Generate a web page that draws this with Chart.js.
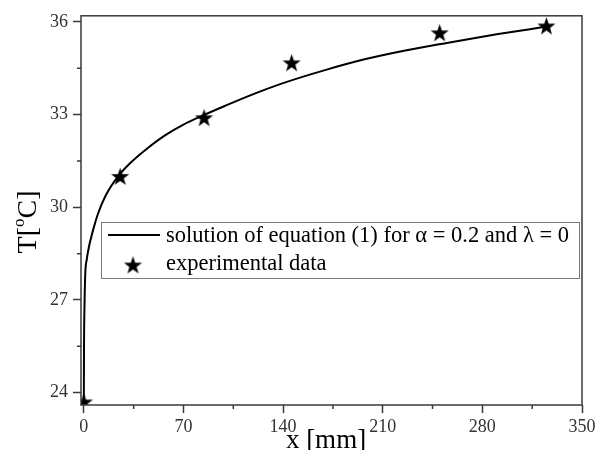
<!DOCTYPE html>
<html>
<head>
<meta charset="utf-8">
<script src="https://cdn.jsdelivr.net/npm/chart.js@4.4.0/dist/chart.umd.min.js"></script>
<style>
  html, body { margin: 0; padding: 0; background: #fff; }
  #wrap { width: 606px; height: 450px; }
</style>
</head>
<body>
<div id="wrap"><canvas id="tempChart"></canvas></div>
<script>
'use strict';

// solution curve, x in mm, T in deg C
const curveX = [0, 0.1, 0.5, 1, 2, 3.5, 5, 7, 10, 15, 24, 33, 43, 57, 70, 84, 99, 120, 140, 170, 198, 225, 256, 290, 325];
const curveT = [23.7, 25.3, 26.9, 27.85, 28.3, 28.7, 29.0, 29.35, 29.8, 30.35, 31.0, 31.45, 31.85, 32.33, 32.68, 32.98, 33.28, 33.68, 34.02, 34.45, 34.8, 35.07, 35.33, 35.6, 35.85];

// measured points
const measuredX = [0, 25.5, 84.5, 146, 250, 325];
const measuredT = [23.7, 31.0, 32.9, 34.68, 35.65, 35.87];

const xTicks = [0, 70, 140, 210, 280, 350];
const xMinor = [35, 105, 175, 245, 315];
const yTicks = [24, 27, 30, 33, 36];
const yMinor = [25.5, 28.5, 31.5, 34.5];

const curveLabel = 'solution of equation (1) for \u03b1 = 0.2 and \u03bb = 0';
const pointsLabel = 'experimental data';
const xTitle = 'x [mm]';

const serif = "'Liberation Serif', 'DejaVu Serif', serif";
const frameColor = '#3a3a3a';

// filled five-pointed star used as point marker
function makeStar(outer) {
    let c = document.createElement('canvas');
    let size = Math.ceil(outer * 2 + 2);
    c.width = size;
    c.height = size;
    let g = c.getContext('2d');
    let inner = outer * 0.4;
    g.beginPath();
    for (let i = 0; i < 10; i++) {
        let r = i % 2 === 0 ? outer : inner;
        let a = -Math.PI / 2 + i * Math.PI / 5;
        let px = size / 2 + r * Math.cos(a);
        let py = size / 2 + r * Math.sin(a) + 0.8;
        if (i === 0) g.moveTo(px, py); else g.lineTo(px, py);
    }
    g.closePath();
    g.fillStyle = '#000';
    g.fill();
    return c;
}
const star = makeStar(9.5);

function toPoints(xs, ys) {
    let pts = [];
    for (let i = 0; i < xs.length; i++) {
        pts.push({ x: xs[i], y: ys[i] });
    }
    return pts;
}

// T[oC] with the small raised "o", written bottom to top
function drawYTitle(ctx) {
    ctx.save();
    ctx.translate(30, 222);
    ctx.rotate(-Math.PI / 2);
    ctx.fillStyle = '#000';
    ctx.textBaseline = 'alphabetic';
    ctx.textAlign = 'left';
    let big = '28px ' + serif;
    let small = '17px ' + serif;
    ctx.font = big;
    let w1 = ctx.measureText('T[').width;
    let w3 = ctx.measureText('C]').width;
    ctx.font = small;
    let w2 = ctx.measureText('o').width;
    let x0 = -(w1 + w2 + w3) / 2;
    ctx.font = big;
    ctx.fillText('T[', x0, 6);
    ctx.font = small;
    ctx.fillText('o', x0 + w1, -6);
    ctx.font = big;
    ctx.fillText('C]', x0 + w1 + w2, 6);
    ctx.restore();
}

// frame, minor ticks, axis titles and the boxed legend
const decorations = {
    id: 'decorations',
    afterDraw(chart) {
        const { ctx, chartArea: a, scales } = chart;
        ctx.save();
        ctx.strokeStyle = frameColor;
        ctx.lineWidth = 1.5;
        ctx.strokeRect(a.left, a.top, a.right - a.left, a.bottom - a.top);

        ctx.beginPath();
        xMinor.forEach(v => {
            let px = scales.x.getPixelForValue(v);
            ctx.moveTo(px, a.bottom);
            ctx.lineTo(px, a.bottom + 4);
        });
        yMinor.forEach(v => {
            let py = scales.y.getPixelForValue(v);
            ctx.moveTo(a.left, py);
            ctx.lineTo(a.left - 4, py);
        });
        ctx.stroke();

        // axis titles
        ctx.fillStyle = '#000';
        ctx.font = '27px ' + serif;
        ctx.textAlign = 'center';
        ctx.textBaseline = 'alphabetic';
        ctx.fillText(xTitle, 326, 448);
        drawYTitle(ctx);

        // legend box
        let bx = 101, by = 222, bw = 478, bh = 56;
        ctx.fillStyle = '#fff';
        ctx.fillRect(bx, by, bw, bh);
        ctx.strokeStyle = '#7a7a7a';
        ctx.lineWidth = 1;
        ctx.strokeRect(bx + 0.5, by + 0.5, bw, bh);

        ctx.strokeStyle = '#000';
        ctx.lineWidth = 2;
        ctx.beginPath();
        ctx.moveTo(108, 235);
        ctx.lineTo(160, 235);
        ctx.stroke();
        ctx.drawImage(star, 133 - star.width / 2, 265 - star.height / 2);

        ctx.fillStyle = '#000';
        ctx.font = '22.5px ' + serif;
        ctx.textBaseline = 'middle';
        ctx.textAlign = 'left';
        ctx.fillText(curveLabel, 166, 236);
        ctx.fillText(pointsLabel, 166, 264);
        ctx.restore();
    }
};

const data = {
    datasets: [
        {
            label: curveLabel,
            data: toPoints(curveX, curveT),
            showLine: true,
            borderColor: '#000',
            borderWidth: 2,
            pointRadius: 0,
            cubicInterpolationMode: 'monotone',
            order: 2,
        },
        {
            label: pointsLabel,
            data: toPoints(measuredX, measuredT),
            showLine: false,
            pointStyle: star,
            pointRadius: 10,
            clip: 0,
            order: 1,
        },
    ]
};

const config = {
    type: 'scatter',
    data: data,
    options: {
        responsive: false,
        animation: false,
        layout: { padding: { top: 15, right: 24, left: 0, bottom: 0 } },
        plugins: {
            legend: { display: false },
            tooltip: { enabled: false },
        },
        scales: {
            x: {
                type: 'linear',
                min: -2,
                max: 350,
                afterBuildTicks: scale => { scale.ticks = xTicks.map(v => ({ value: v })); },
                afterFit: scale => { scale.height = 45; },
                grid: { drawOnChartArea: false, tickLength: 8, tickColor: frameColor, tickWidth: 1.5 },
                border: { display: false },
                ticks: { color: '#333', padding: 3, maxRotation: 0, font: { family: serif, size: 18 } },
            },
            y: {
                type: 'linear',
                min: 23.6,
                max: 36.2,
                afterBuildTicks: scale => { scale.ticks = yTicks.map(v => ({ value: v })); },
                afterFit: scale => { scale.width = 81; },
                grid: { drawOnChartArea: false, tickLength: 8, tickColor: frameColor, tickWidth: 1.5 },
                border: { display: false },
                ticks: { color: '#333', padding: 5, font: { family: serif, size: 18 } },
            },
        },
    },
    plugins: [decorations],
};

const canvas = document.getElementById('tempChart');
canvas.width = 606;
canvas.height = 450;
const tempChart = new Chart(canvas, config);
</script>
</body>
</html>
